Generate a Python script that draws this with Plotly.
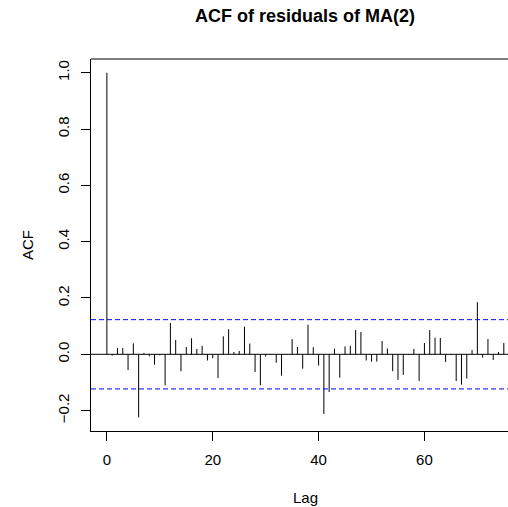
import plotly.graph_objects as go

lags = list(range(0, 76))
acf_values = [
    1.0, -0.005, 0.022, 0.022, -0.056, 0.039, -0.224, 0.005, -0.007, -0.037,
    -0.004, -0.110, 0.111, 0.051, -0.060, 0.026, 0.057, 0.019, 0.030, -0.022,
    -0.014, -0.084, 0.064, 0.089, 0.008, 0.012, 0.098, 0.038, -0.063, -0.110,
    -0.008, -0.002, -0.030, -0.076, 0.001, 0.054, 0.026, -0.051, 0.105, 0.025,
    -0.040, -0.212, -0.134, 0.020, -0.083, 0.028, 0.030, 0.086, 0.079, -0.022,
    -0.026, -0.026, 0.047, 0.021, -0.060, -0.091, -0.073, -0.002, 0.019, -0.095,
    0.040, 0.086, 0.059, 0.058, -0.027, -0.003, -0.095, -0.108, -0.086, 0.015,
    0.185, -0.012, 0.054, -0.020, 0.008, 0.040,
]
conf_limit = 0.123
x_ticks = [0, 20, 40, 60]
y_ticks = [-0.2, 0.0, 0.2, 0.4, 0.6, 0.8, 1.0]
y_tick_labels = ["\u22120.2", "0.0", "0.2", "0.4", "0.6", "0.8", "1.0"]

FONT = "Liberation Sans, Arial, Helvetica, sans-serif"

xs, ys = [], []
for k, v in zip(lags, acf_values):
    xs += [k, k, None]
    ys += [0, v, None]

fig = go.Figure()
fig.add_trace(go.Scatter(x=xs, y=ys, mode="lines",
                         line=dict(color="black", width=1),
                         hoverinfo="skip", showlegend=False))

x_range = [-3, 75.79]
y_range = [-0.2724, 1.0487]

# zero line
fig.add_trace(go.Scatter(x=x_range, y=[0, 0], mode="lines",
                         line=dict(color="black", width=1),
                         hoverinfo="skip", showlegend=False))
# confidence bands
for c in (conf_limit, -conf_limit):
    fig.add_trace(go.Scatter(x=x_range, y=[c, c], mode="lines",
                             line=dict(color="#0000FF", width=1, dash="5px,3px"),
                             hoverinfo="skip", showlegend=False))

fig.update_layout(
    width=508, height=507,
    margin=dict(l=91, r=0, t=59, b=76),
    plot_bgcolor="white", paper_bgcolor="white",
    font=dict(family=FONT, size=15, color="black"),
    showlegend=False,
    xaxis=dict(range=x_range, tickvals=x_ticks, ticks="outside", ticklen=9,
               tickcolor="black", showgrid=False, zeroline=False,
               showline=True, linecolor="black", linewidth=1,
               ticklabelstandoff=6, tickfont=dict(size=15)),
    yaxis=dict(range=y_range, tickvals=y_ticks, ticktext=y_tick_labels,
               ticks="outside", ticklen=9, tickangle=-90,
               tickcolor="black", showgrid=False, zeroline=False,
               showline=True, linecolor="black", linewidth=1,
               ticklabelstandoff=6, tickfont=dict(size=15)),
    shapes=[dict(type="line", xref="paper", yref="paper", x0=0, x1=1.05,
                 y0=1, y1=1, line=dict(color="black", width=1))],
    annotations=[
        dict(text="<b>ACF of residuals of MA(2)</b>", xref="paper", yref="paper",
             x=(305 - 91) / 417, y=(431 - 16) / 372, xanchor="center",
             yanchor="middle", showarrow=False, font=dict(size=18)),
        dict(text="Lag", xref="paper", yref="paper",
             x=(305 - 91) / 417, y=(431 - 497) / 372, xanchor="center",
             yanchor="middle", showarrow=False, font=dict(size=15)),
        dict(text="ACF", xref="paper", yref="paper",
             x=(27 - 91) / 417, y=(431 - 245) / 372, xanchor="center",
             yanchor="middle", textangle=-90, showarrow=False,
             font=dict(size=15)),
    ],
)

fig.write_html("out.html")
